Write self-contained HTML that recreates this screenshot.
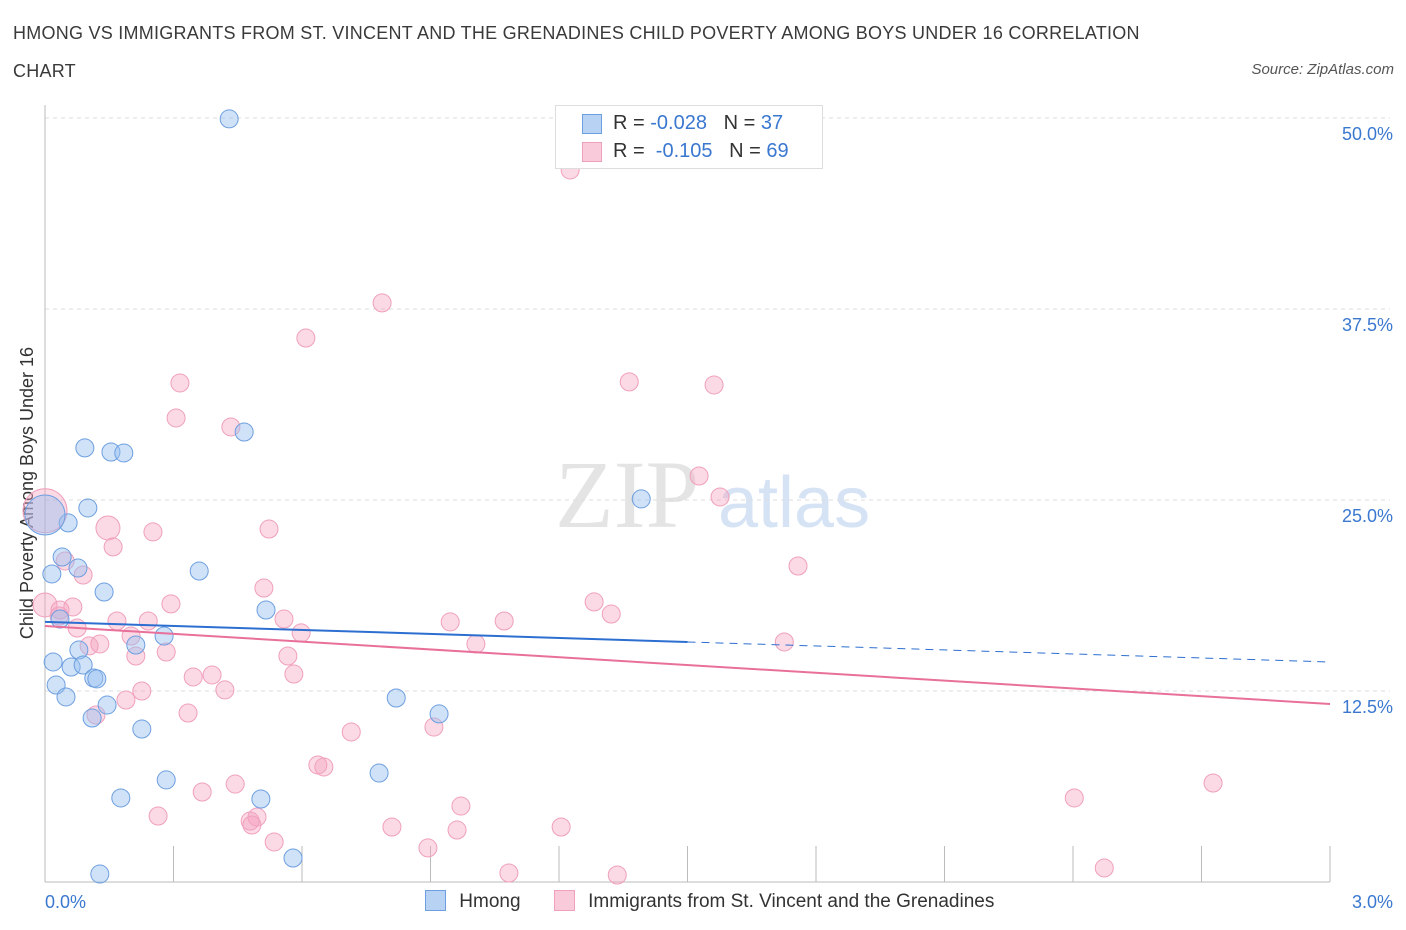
<!DOCTYPE html>
<html><head><meta charset="utf-8">
<style>
body{margin:0;background:#fff;font-family:"Liberation Sans",sans-serif;}
#wrap{position:relative;width:1406px;height:930px;overflow:hidden;}
.t{position:absolute;color:#333;}
</style></head>
<body>
<div id="wrap">
<div class="t" style="left:13px;top:14px;font-size:18px;line-height:38px;width:1160px;letter-spacing:0.25px;color:#3a3a3a;">HMONG VS IMMIGRANTS FROM ST. VINCENT AND THE GRENADINES CHILD POVERTY AMONG BOYS UNDER 16 CORRELATION CHART</div>
<div class="t" style="right:12px;top:61px;font-size:15px;font-style:italic;color:#555;">Source: ZipAtlas.com</div>
<svg id="svg" width="1406" height="930" style="position:absolute;left:0;top:0"></svg>
</div>
<script>
const hmongX=[0.43,0.465,0.093,0.154,0.184,0.100,0.054,0.0,0.040,0.016,0.077,0.138,0.360,1.392,0.516,0.035,0.278,0.212,0.079,0.019,0.061,0.089,0.114,0.121,0.026,0.049,0.145,0.110,0.820,0.920,0.226,0.283,0.780,0.177,0.504,0.579,0.128];
const hmongY=[49.94,29.45,28.41,28.14,28.08,24.48,23.50,24.02,21.27,20.16,20.55,18.98,20.35,25.07,17.80,17.21,16.10,15.51,15.18,14.40,14.07,14.20,13.35,13.29,12.89,12.11,11.58,10.73,12.04,11.00,10.01,6.68,7.13,5.50,5.43,1.57,0.52];
const hmongR=[9,9,9,9,9,9,9,20,9,9,9,9,9,9,9,9,9,9,9,9,9,9,9,9,9,9,9,9,9,9,9,9,9,9,9,9,9];
const vinX=[1.226,0.787,0.609,0.315,1.364,1.562,0.306,0.434,1.527,1.576,0.147,0.252,0.523,0.159,0.047,0.089,1.758,0.511,1.282,1.322,0.294,0.0,0.065,0.033,0.168,0.241,0.558,0.946,1.072,0.075,0.201,0.598,0.128,0.103,1.006,1.726,0.212,0.283,0.567,0.346,0.390,0.581,0.226,0.420,0.189,0.119,0.334,0.715,0.908,0.637,0.651,0.444,2.403,2.727,0.367,0.971,0.264,0.495,0.479,0.483,0.810,0.962,1.205,0.535,0.894,1.083,1.336,2.473,0.035,0.0];
const vinY=[46.60,37.90,35.60,32.66,32.73,32.53,30.37,29.78,26.57,25.20,23.17,22.91,23.10,21.93,21.01,20.09,20.68,19.24,18.33,17.54,18.20,18.13,18.00,17.41,17.08,17.08,17.21,17.02,17.08,16.62,16.10,16.30,15.58,15.45,15.58,15.71,14.79,15.05,14.79,13.42,13.55,13.61,12.50,12.57,11.91,10.93,11.06,9.82,10.14,7.66,7.53,6.41,5.50,6.48,5.89,4.97,4.32,4.25,3.99,3.73,3.60,3.40,3.60,2.62,2.23,0.59,0.46,0.92,17.80,24.3];
const vinR=[9,9,9,9,9,9,9,9,9,9,12,9,9,9,9,9,9,9,9,9,9,12,9,9,9,9,9,9,9,9,9,9,9,9,9,9,9,9,9,9,9,9,9,9,9,9,9,9,9,9,9,9,9,9,9,9,9,9,9,9,9,9,9,9,9,9,9,9,9,22];
const hmongTrend=[17.02,14.40];
const vinTrend=[16.75,11.65];
const yTicks=[12.5,25,37.5,50];
const yTickLabels=["12.5%","25.0%","37.5%","50.0%"];
const xTickVals=[0,0.3,0.6,0.9,1.2,1.5,1.8,2.1,2.4,2.7,3.0];

const X0=45,X1=1330,Y0=882,PX=191/12.5;
const sx=v=>X0+(v/3)*(X1-X0);
const sy=v=>Y0-v*PX;
const svg=document.getElementById('svg');
const NS='http://www.w3.org/2000/svg';
function mk(tag,attrs){const e=document.createElementNS(NS,tag);for(const k in attrs)e.setAttribute(k,attrs[k]);svg.appendChild(e);return e;}

let w=mk('text',{x:555,y:527,'font-size':96,'font-family':'Liberation Serif,serif',fill:'#e4e4e4'});w.textContent='ZIP';

w=mk('text',{x:718,y:527,'font-size':72,'font-family':'Liberation Sans,sans-serif',fill:'#d5e3f5'});w.textContent='atlas';


yTicks.forEach((v,i)=>{
  const g=mk('line',{x1:X0,x2:1390,y1:sy(v),y2:sy(v),stroke:'#ddd','stroke-dasharray':'4,4'});
  
  const t=mk('text',{x:1393,y:sy(v)+22,'text-anchor':'end','font-size':18,fill:'#3a78d0'});t.textContent=yTickLabels[i];
  
});
let a=mk('line',{x1:X0,x2:X0,y1:105,y2:Y0,stroke:'#bbb'});
a=mk('line',{x1:X0,x2:X1,y1:Y0,y2:Y0,stroke:'#bbb'});
xTickVals.forEach(v=>{const l=mk('line',{x1:sx(v),x2:sx(v),y1:Y0,y2:Y0-36+ (v===0?36:0),stroke:'#bbb'});
  });
let t=mk('text',{x:45,y:908,'font-size':18,fill:'#3a78d0'});t.textContent='0.0%';
t=mk('text',{x:1393,y:908,'font-size':18,fill:'#3a78d0','text-anchor':'end'});t.textContent='3.0%';
t=mk('text',{x:0,y:0,'font-size':18,fill:'#333','text-anchor':'middle',transform:'translate(33,493) rotate(-90)'});t.textContent='Child Poverty Among Boys Under 16';


vinX.forEach((x,i)=>{const c=mk('circle',{cx:sx(x),cy:sy(vinY[i]),r:vinR[i],fill:'rgba(244,160,190,0.4)',stroke:'#f0a0bc','stroke-width':1});
  });
hmongX.forEach((x,i)=>{const c=mk('circle',{cx:sx(x),cy:sy(hmongY[i]),r:hmongR[i],fill:'rgba(150,190,240,0.45)',stroke:'#6d9fe0','stroke-width':1});
  });

const hm=v=>hmongTrend[0]+(hmongTrend[1]-hmongTrend[0])*v/3;
let l=mk('line',{x1:sx(0),y1:sy(hm(0)),x2:sx(1.5),y2:sy(hm(1.5)),stroke:'#2d6fd0','stroke-width':2});

l=mk('line',{x1:sx(1.5),y1:sy(hm(1.5)),x2:sx(3),y2:sy(hm(3)),stroke:'#2d6fd0','stroke-width':1,'stroke-dasharray':'8,6'});

l=mk('line',{x1:sx(0),y1:sy(vinTrend[0]),x2:sx(3),y2:sy(vinTrend[1]),stroke:'#e8709a','stroke-width':2});

</script>
<div style="position:absolute;left:555px;top:105px;width:266px;height:62px;border:1px solid #ddd;background:#fff;font-size:20px;color:#333;">
 <div style="position:absolute;left:26px;top:8px;width:18px;height:18px;background:#b8d2f4;border:1px solid #6d9fe0"></div>
 <div style="position:absolute;left:57px;top:6px;">R = <span style="color:#3a78d0">-0.028</span>&nbsp;&nbsp;&nbsp;N = <span style="color:#3a78d0">37</span></div>
 <div style="position:absolute;left:26px;top:36px;width:18px;height:18px;background:#f9cad9;border:1px solid #f0a0bc"></div>
 <div style="position:absolute;left:57px;top:34px;">R = &nbsp;<span style="color:#3a78d0">-0.105</span>&nbsp;&nbsp;&nbsp;N = <span style="color:#3a78d0">69</span></div>
</div>
<div style="position:absolute;left:425px;top:890px;font-size:19px;color:#333;">
 <span style="display:inline-block;width:19px;height:19px;background:#b8d2f4;border:1px solid #6d9fe0;vertical-align:-4px"></span>
 <span style="margin-left:8px">Hmong</span>
 <span style="display:inline-block;width:19px;height:19px;background:#f9cad9;border:1px solid #f0a0bc;vertical-align:-4px;margin-left:28px"></span>
 <span style="margin-left:8px">Immigrants from St. Vincent and the Grenadines</span>
</div>
</body></html>
